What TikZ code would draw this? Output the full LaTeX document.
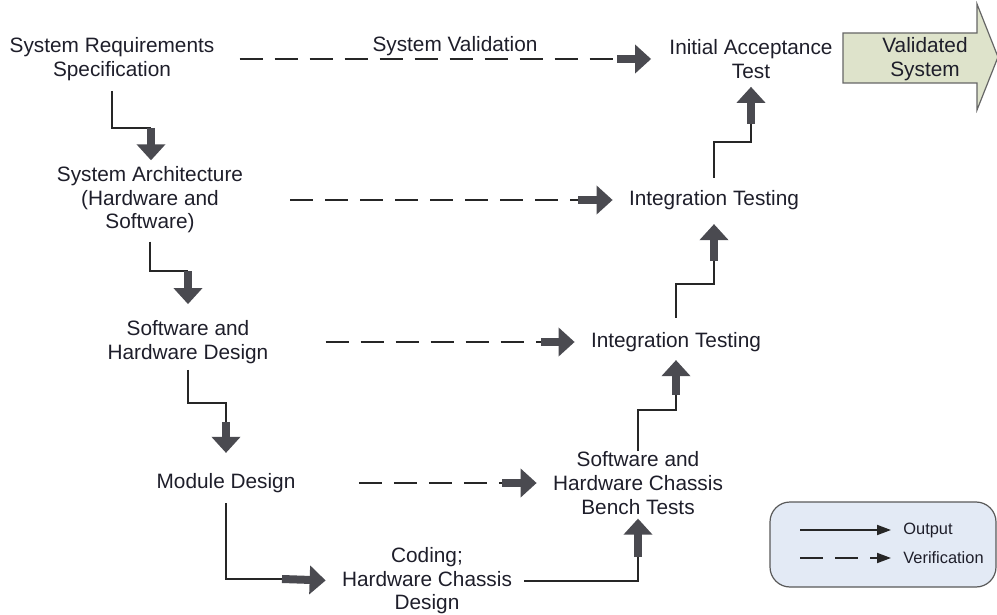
\documentclass[tikz,border=0pt]{standalone}
\usepackage{fontspec}
\setmainfont{Liberation Sans}
\usetikzlibrary{arrows.meta}

\definecolor{textdark}{HTML}{1E1E2A}
\definecolor{arrowgray}{HTML}{4A4A50}
\definecolor{valfill}{HTML}{DEE3CB}
\definecolor{legendfill}{HTML}{E3EAF5}

\begin{document}
\begin{tikzpicture}[
       x=0.5pt, y=-0.5pt,
       stage/.style={
         align=center,
         inner sep=0pt,
         yshift=-1pt,
         text=textdark,
         font=\fontsize{10.4}{11.8}\selectfont
       },
       wire/.style={draw=black!85, line width=0.9pt},
       dashwire/.style={wire, dash pattern=on 11.5pt off 6pt},
       bigarrow/.style={
         draw=arrowgray,
         line width=4pt,
         -{Triangle[length=8pt,width=14pt]}
       },
       legendtext/.style={
         inner sep=0pt,
         anchor=west,
         text=textdark,
         font=\fontsize{8.2}{10}\selectfont
       }
     ]

       \useasboundingbox (0,0) rectangle (997,615);

       \node (req) at (112,57) [stage]{System Requirements\\Specification};
       \node (arch) at (150,198) [stage]{System Architecture\\(Hardware and\\Software)};
       \node (swhw) at (188,340) [stage]{Software and\\Hardware Design};
       \node (modd) at (226,481) [stage]{Module Design};
       \node (coding) at (427,579) [stage]{Coding;\\Hardware Chassis\\Design};
       \node (bench) at (638,481) [stage]{Software and\\Hardware Chassis\\Bench Tests};
       \node (int1) at (676,340) [stage]{Integration Testing};
       \node (int2) at (714,198) [stage]{Integration Testing};
       \node (init) at (751,57) [stage]{Initial Acceptance\\Test};
       \node (sysval) at (455,44) [stage]{System Validation};

       \draw[draw=black!60, fill=valfill, line width=0.6pt]
         (843,33) -- (977,33) -- (977,4) -- (998,57) -- (977,110) -- (977,83) -- (843,83) -- cycle;
       \node (valsys) at (925,57) [stage]{Validated\\System};

       \coordinate (k1) at (151,128);
       \coordinate (k2) at (188,271);
       \coordinate (k3) at (226,403);
       \coordinate (k3b) at (226,422);
       \coordinate (k4) at (282,579);
       \coordinate (k5) at (638,557);
       \coordinate (k6) at (676,410);
       \coordinate (k6b) at (676,395);
       \coordinate (k7) at (714,284);
       \coordinate (k7b) at (714,261);
       \coordinate (k8) at (751,142);
       \coordinate (k8b) at (751,124);

       \draw[wire, shorten <=5pt] (req.south) |- (k1);
       \draw[bigarrow, shorten >=3pt] (k1) -- (k1 |- arch.north);
       \draw[wire, shorten <=4pt] (arch.south) |- (k2);
       \draw[bigarrow, shorten >=8pt] (k2) -- (k2 |- swhw.north);
       \draw[wire, shorten <=3pt] (swhw.south) |- (k3) -- (k3b);
       \draw[bigarrow, shorten >=10pt] (k3b) -- (k3b |- modd.north);
       \draw[wire, shorten <=5pt] (modd.south) |- (k4);
       \draw[bigarrow, shorten >=8pt] (k4) -- (coding.west);

       \draw[wire, shorten <=6pt] (coding.east) -| (k5);
       \draw[bigarrow, shorten >=2pt] (k5) -- (bench.south);
       \draw[wire] (bench.north) |- (k6) -- (k6b);
       \draw[bigarrow, shorten >=4pt] (k6b) -- (k6b |- int1.south);
       \draw[wire, shorten <=7pt] (int1.north) |- (k7) -- (k7b);
       \draw[bigarrow, shorten >=7pt] (k7b) -- (k7b |- int2.south);
       \draw[wire, shorten <=6pt] (int2.north) |- (k8) -- (k8b);
       \draw[bigarrow, shorten >=4pt] (k8b) -- (k8b |- init.south);

       \coordinate (v1) at (617,59);
       \coordinate (v2) at (578,200);
       \coordinate (v3) at (541,342);
       \coordinate (v4) at (502,483);

       \draw[dashwire, shorten <=12.5pt] (req.east) -- (v1);
       \draw[bigarrow, shorten >=9pt] (v1) -- (init.west);
       \draw[dashwire, shorten <=23.5pt] (arch.east) -- (v2);
       \draw[bigarrow, shorten >=8pt] (v2) -- (int2.west);
       \draw[dashwire, shorten <=28.5pt] (swhw.east) -- (v3);
       \draw[bigarrow, shorten >=8pt] (v3) -- (int1.west);
       \draw[dashwire, shorten <=31.5pt] (modd.east) -- (v4);
       \draw[bigarrow, shorten >=8pt] (v4) -- (bench.west);

       \draw[draw=black!65, fill=legendfill, line width=0.6pt, rounded corners=10pt]
         (770,502) rectangle (996,587);
       \node (outlbl) at (903,530) [legendtext]{Output};
       \node (verlbl) at (903,558) [legendtext]{Verification};
       \coordinate (l1) at (800,530);
       \coordinate (l2) at (800,558);
       \draw[wire, -{Triangle[length=7pt,width=5pt]}, shorten >=6pt] (l1) -- (outlbl.west);
       \draw[dashwire, -{Triangle[length=7pt,width=5pt]}, shorten >=6pt] (l2) -- (verlbl.west);

\end{tikzpicture}
\end{document}
